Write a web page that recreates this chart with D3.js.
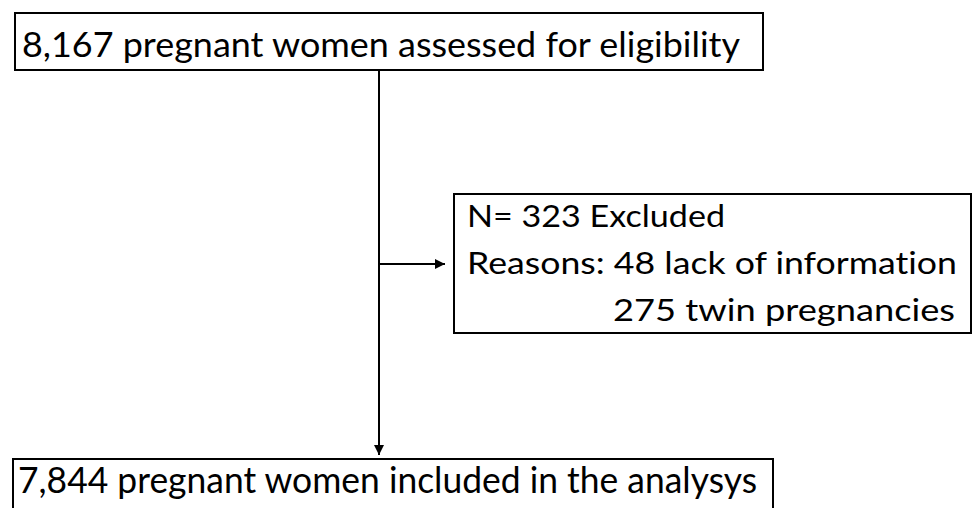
<!DOCTYPE html>
<html>
<head>
<meta charset="utf-8">
<script src="https://cdn.jsdelivr.net/npm/d3@7"></script>
<style>
  body { margin: 0; background: #fff; }
  svg text { font-family: Lato, "Open Sans", sans-serif; fill: #000; font-variant-ligatures: none; font-feature-settings: "liga" 0; }
</style>
</head>
<body>
<div id="chartContainer"></div>
<script>
// flow counts
const assessed = 8167;
const excludedReasons = ["lack of information", "twin pregnancies"];
const excludedCounts = [48, 275];
const included = 7844;

const fmt = d3.format(",");
const excludedTotal = d3.sum(excludedCounts);

const topLabel = `${fmt(assessed)} pregnant women assessed for eligibility`;
const bottomLabel = `${fmt(included)} pregnant women included in the analysys`;
const excludedLines = [
  `N= ${excludedTotal} Excluded`,
  `Reasons: ${excludedCounts[0]} ${excludedReasons[0]}`,
  `${excludedCounts[1]} ${excludedReasons[1]}`
];

const width = 974;
const height = 508;

const svg = d3.select("#chartContainer")
  .append("svg")
  .attr("width", width)
  .attr("height", height);

svg.append("defs").append("marker")
  .attr("id", "arrow")
  .attr("viewBox", "0 0 10 10")
  .attr("refX", 10)
  .attr("refY", 5)
  .attr("markerWidth", 5)
  .attr("markerHeight", 5)
  .attr("markerUnits", "strokeWidth")
  .attr("orient", "auto")
  .append("path")
  .attr("d", "M0,0 L10,5 L0,10 Z")
  .attr("fill", "#000");

// boxes
const boxes = [
  { x: 15, y: 13, w: 748, h: 57 },
  { x: 454, y: 194, w: 517, h: 139 },
  { x: 13, y: 459, w: 760, h: 60 }
];

svg.selectAll("rect.box")
  .data(boxes)
  .enter()
  .append("rect")
  .attr("class", "box")
  .attr("x", d => d.x)
  .attr("y", d => d.y)
  .attr("width", d => d.w)
  .attr("height", d => d.h)
  .attr("fill", "none")
  .attr("stroke", "#000")
  .attr("stroke-width", 2);

// connectors
const spineX = 379;
svg.append("line")
  .attr("x1", spineX).attr("y1", 70)
  .attr("x2", spineX).attr("y2", 455)
  .attr("stroke", "#000")
  .attr("stroke-width", 2)
  .attr("marker-end", "url(#arrow)");

svg.append("line")
  .attr("x1", spineX).attr("y1", 264)
  .attr("x2", 445).attr("y2", 264)
  .attr("stroke", "#000")
  .attr("stroke-width", 2)
  .attr("marker-end", "url(#arrow)");

// labels
svg.append("text")
  .attr("x", 22)
  .attr("y", 57)
  .attr("font-size", "35px")
  .attr("textLength", 718)
  .attr("lengthAdjust", "spacingAndGlyphs")
  .text(topLabel);

const exclPos = [
  { x: 467, y: 227, len: 258 },
  { x: 467, y: 274, len: 490 },
  { x: 613, y: 321, len: 342 }
];

svg.selectAll("text.excl")
  .data(excludedLines)
  .enter()
  .append("text")
  .attr("class", "excl")
  .attr("x", (d, i) => exclPos[i].x)
  .attr("y", (d, i) => exclPos[i].y)
  .attr("font-size", "31px")
  .attr("textLength", (d, i) => exclPos[i].len)
  .attr("lengthAdjust", "spacingAndGlyphs")
  .text(d => d);

svg.append("text")
  .attr("x", 18)
  .attr("y", 493)
  .attr("font-size", "36px")
  .attr("textLength", 739)
  .attr("lengthAdjust", "spacingAndGlyphs")
  .text(bottomLabel);
</script>
</body>
</html>
